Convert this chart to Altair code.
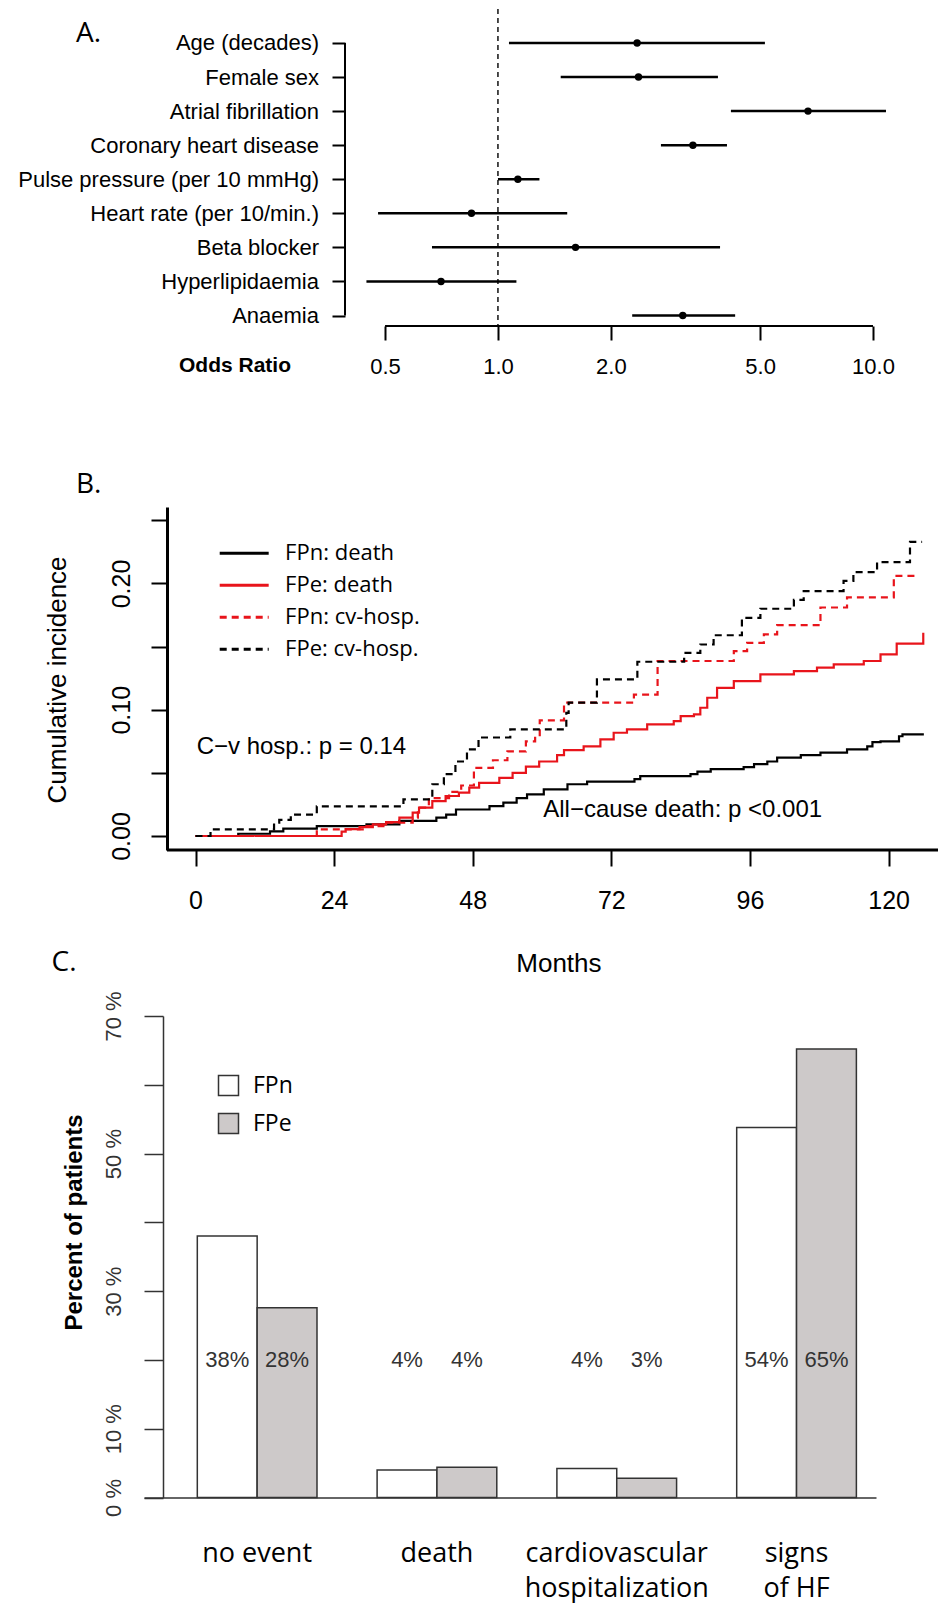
import altair as alt
import pandas as pd

ARIAL = "Liberation Sans"
CAL = "Open Sans"
RED = "#e8141b"

# ---------------- Panel A: odds ratios ----------------
predictors = ["Age (decades)", "Female sex", "Atrial fibrillation", "Coronary heart disease",
              "Pulse pressure (per 10 mmHg)", "Heart rate (per 10/min.)", "Beta blocker",
              "Hyperlipidaemia", "Anaemia"]
or_point = [2.35, 2.37, 6.71, 3.31, 1.13, 0.85, 1.61, 0.705, 3.11]
or_lower = [1.07, 1.47, 4.18, 2.72, 1.00, 0.479, 0.667, 0.446, 2.28]
or_upper = [5.15, 3.86, 10.83, 4.08, 1.29, 1.53, 3.91, 1.12, 4.29]
or_ticks = [0.5, 1.0, 2.0, 5.0, 10.0]
or_reference = [1.0]

# ---------------- Panel B: cumulative incidence ----------------
series_names = ["FPn: death", "FPe: death", "FPn: cv-hosp.", "FPe: cv-hosp."]
fpn_death_months = [0, 7.4, 12.9, 15.2, 21.0, 29.6, 35.3, 41.7, 43.4, 45.1, 50.9, 53.3, 55.6, 57.4,
                    60.3, 64.4, 67.8, 76.0, 77.0, 85.7, 86.9, 89.2, 94.9, 96.7, 99.0, 100.7, 104.8,
                    108.2, 112.8, 116.3, 117.2, 118.6, 121.8, 122.4, 126.1]
fpn_death_values = [0, 0.0018, 0.0037, 0.0058, 0.0079, 0.0092, 0.012, 0.0145, 0.017, 0.021, 0.0237,
                    0.0264, 0.030, 0.033, 0.037, 0.041, 0.043, 0.045, 0.0475, 0.049, 0.051, 0.053,
                    0.0546, 0.057, 0.059, 0.062, 0.064, 0.066, 0.0686, 0.071, 0.0744, 0.075, 0.079,
                    0.0805, 0.0805]
fpe_death_months = [0, 25.3, 26.0, 28.4, 30.7, 33.0, 35.3, 37.6, 38.7, 41.0, 43.3, 45.6, 47.4, 49.1,
                    52.6, 54.9, 57.2, 59.5, 62.6, 63.8, 67.2, 70.1, 72.4, 74.7, 78.2, 82.8, 84.0,
                    86.3, 87.4, 88.6, 90.3, 93.2, 97.8, 103.6, 107.6, 110.5, 115.7, 118.6, 121.4,
                    126.0, 126.0]
fpe_death_values = [0, 0.0034, 0.0055, 0.007, 0.0092, 0.011, 0.0145, 0.0185, 0.0224, 0.0277, 0.0317,
                    0.0343, 0.0383, 0.042, 0.046, 0.050, 0.055, 0.059, 0.064, 0.068, 0.071, 0.0765,
                    0.0818, 0.0845, 0.0884, 0.091, 0.095, 0.0963, 0.1016, 0.1095, 0.1174, 0.1227,
                    0.128, 0.1306, 0.1333, 0.136, 0.1386, 0.1439, 0.1523, 0.1523, 0.161]
fpn_hosp_months = [0, 21.0, 29.6, 33.0, 37.6, 38.5, 40.4, 43.9, 46.0, 48.2, 51.5, 54.0, 57.2, 58.8,
                   59.6, 63.8, 75.9, 80.0, 93.2, 95.5, 98.4, 100.7, 108.2, 112.8, 120.9, 124.9]
fpn_hosp_values = [0, 0.0053, 0.0079, 0.0105, 0.0145, 0.0224, 0.030, 0.035, 0.040, 0.054, 0.060,
                   0.067, 0.075, 0.079, 0.0916, 0.1056, 0.112, 0.1386, 0.1465, 0.153, 0.1597, 0.167,
                   0.181, 0.189, 0.206, 0.206]
fpe_hosp_months = [0, 2.6, 13.6, 14.5, 16.5, 21.0, 36.0, 41.0, 43.0, 45.0, 47.0, 49.0, 54.5, 64.2,
                   64.6, 69.5, 76.5, 84.6, 87.4, 89.7, 94.6, 97.8, 103.6, 105.3, 112.2, 113.9, 118.0,
                   123.7, 125.8]
fpe_hosp_values = [0, 0.0053, 0.0105, 0.0127, 0.017, 0.0235, 0.029, 0.041, 0.049, 0.059, 0.0686,
                   0.078, 0.0845, 0.0975, 0.1056, 0.124, 0.138, 0.145, 0.1517, 0.159, 0.1728, 0.18,
                   0.187, 0.194, 0.202, 0.209, 0.217, 0.233, 0.233]
month_ticks = [0, 24, 48, 72, 96, 120]
inc_ticks = [0, 0.05, 0.1, 0.15, 0.2, 0.25]
annot_text = ["C\u2212v hosp.: p = 0.14", "All\u2212cause death: p <0.001"]
annot_month = [0.2, 60.2]
annot_value = [0.0705, 0.0206]

# ---------------- Panel C: outcomes ----------------
outcomes = ["no event", "death", "cardiovascular hospitalization", "signs of HF"]
groups = ["FPn", "FPe"]
pct_fpn = [38.0, 4.0, 4.2, 53.8]
pct_fpe = [27.6, 4.4, 2.8, 65.2]
pct_ticks = [0, 10, 20, 30, 40, 50, 60, 70]
pct_labelled = [0, 10, 30, 50, 70]
label_level = 20

one_row = pd.DataFrame({"k": [0]})

# all three plot areas share the same left edge (page x = 144); axes are shifted with offsets
LEFT, RIGHT = -136, 797   # page x 8 .. 941 relative to the shared plot edge

# =============== Panel A ===============
WA, HA = 761, 317
dfA = pd.DataFrame({"label": predictors, "est": or_point, "lo": or_lower, "hi": or_upper})
xA = alt.Scale(type="log", domain=[0.11383, 12.171], nice=False)
yA = alt.Scale(type="point", domain=predictors, padding=0.653, align=0.764)
xaxisA = alt.Axis(values=or_ticks, format=".1f", domain=False, tickSize=14, tickWidth=2,
                  tickColor="black", labelFont=ARIAL, labelFontSize=22, labelColor="black",
                  labelPadding=16, labelFlush=False, labelOverlap=False, grid=False,
                  title="Odds Ratio", titleFont=ARIAL, titleFontSize=21, titleFontWeight="bold",
                  titleColor="black", titleX=90.5, titleY=39, titleAlign="center",
                  titleBaseline="middle")
yaxisA = alt.Axis(title=None, domain=False, offset=-201, tickSize=13, tickWidth=2,
                  tickColor="black", labelFont=ARIAL, labelFontSize=22, labelColor="black",
                  labelPadding=13.5, labelLimit=0, grid=False)

spacerA = alt.Chart(one_row).mark_rect(opacity=0).encode(
    x=alt.value(LEFT), x2=alt.value(RIGHT), y=alt.value(0), y2=alt.value(458))
refA = alt.Chart(pd.DataFrame({"r": or_reference})).mark_rule(
    color="black", strokeWidth=1.4, strokeDash=[5, 4]).encode(
    x=alt.X("r:Q", scale=xA, axis=xaxisA))
ciA = alt.Chart(dfA).mark_rule(color="black", strokeWidth=2.5).encode(
    x=alt.X("lo:Q", scale=xA, axis=xaxisA), x2="hi:Q",
    y=alt.Y("label:N", scale=yA, axis=yaxisA, sort=None))
ptA = alt.Chart(dfA).mark_circle(color="black", opacity=1, size=55).encode(
    x=alt.X("est:Q", scale=xA, axis=xaxisA),
    y=alt.Y("label:N", scale=yA, axis=yaxisA, sort=None))
spineA = alt.Chart(pd.DataFrame({"label": [predictors[0], predictors[-1]]})).mark_line(
    color="black", strokeWidth=2).encode(
    x=alt.value(201), y=alt.Y("label:N", scale=yA, axis=yaxisA, sort=None))
xlineA = alt.Chart(pd.DataFrame({"a": [or_ticks[0]], "b": [or_ticks[-1]]})).mark_rule(
    color="black", strokeWidth=2).encode(
    x=alt.X("a:Q", scale=xA, axis=xaxisA), x2="b:Q", y=alt.value(HA))
tagA = alt.Chart(one_row).mark_text(text="A.", font=CAL, fontSize=28, align="left",
                                    baseline="middle", color="black").encode(
    x=alt.value(-68), y=alt.value(25))
panelA = alt.layer(spacerA, refA, ciA, ptA, spineA, xlineA, tagA).properties(width=WA, height=HA)

# =============== Panel B ===============
WB, HB = 794, 343
rows = []
for name, ms, vs in [(series_names[0], fpn_death_months, fpn_death_values),
                     (series_names[1], fpe_death_months, fpe_death_values),
                     (series_names[2], fpn_hosp_months, fpn_hosp_values),
                     (series_names[3], fpe_hosp_months, fpe_hosp_values)]:
    for i, (m, v) in enumerate(zip(ms, vs)):
        rows.append({"series": name, "month": m, "value": v, "idx": i})
dfB = pd.DataFrame(rows)
xB = alt.Scale(domain=[-8.9165, 128.55], nice=False, zero=False)
yB = alt.Scale(domain=[-0.01109, 0.26059], nice=False, zero=False)
xaxisB = alt.Axis(values=month_ticks, domain=False, tickSize=16,
                  tickWidth=2, tickColor="black", labelFont=ARIAL, labelFontSize=25,
                  labelColor="black", labelPadding=22.5, labelFlush=False, labelOverlap=False,
                  grid=False, title="Months", titleFont=ARIAL, titleFontSize=26,
                  titleFontWeight="normal", titleColor="black", titleX=414.4, titleY=113,
                  titleAlign="center", titleBaseline="middle")
yaxisB = alt.Axis(values=inc_ticks, offset=-23, domainWidth=3, domainColor="black", tickSize=16,
                  tickWidth=2, tickColor="black", labelFont=ARIAL, labelFontSize=25,
                  labelColor="black", labelAngle=270, labelAlign="center",
                  labelBaseline="bottom", labelPadding=17, labelFlush=False,
                  labelOverlap=False, grid=False,
                  labelExpr="indexof([0, 0.1, 0.2], datum.value) >= 0 ? format(datum.value, '.2f') : ''",
                  title="Cumulative incidence", titleFont=ARIAL, titleFontSize=26,
                  titleFontWeight="normal", titleColor="black", titleAngle=270,
                  titleX=-109.5, titleY=172.5, titleAlign="center", titleBaseline="middle")
# legends of concatenated views are placed in root coordinates (origin = top-left of panel A)
legB = alt.Legend(title=None, orient="none", legendX=88.7, legendY=532.7,
                  symbolType="M-2.5,0H2.5", symbolSize=384, symbolStrokeWidth=3,
                  labelFont=CAL, labelFontSize=22, labelColor="black", labelOffset=29.4,
                  rowPadding=9, padding=0, labelLimit=0)

spacerB = alt.Chart(one_row).mark_rect(opacity=0).encode(
    x=alt.value(LEFT), x2=alt.value(RIGHT), y=alt.value(-40), y2=alt.value(479))
frameB = alt.Chart(one_row).mark_rule(color="black", strokeWidth=3).encode(
    x=alt.value(23), x2=alt.value(WB), y=alt.value(HB))
linesB = alt.Chart(dfB).mark_line(interpolate="step-after", strokeWidth=2.2).encode(
    x=alt.X("month:Q", scale=xB, axis=xaxisB),
    y=alt.Y("value:Q", scale=yB, axis=yaxisB),
    color=alt.Color("series:N", scale=alt.Scale(domain=series_names,
                                                range=["black", RED, RED, "black"]),
                    legend=legB),
    strokeDash=alt.StrokeDash("series:N", scale=alt.Scale(domain=series_names,
                                                          range=[[1, 0], [1, 0], [7, 5], [7, 5]]),
                              legend=legB),
    order=alt.Order("idx:Q"))
annB = alt.Chart(pd.DataFrame({"t": annot_text, "m": annot_month, "v": annot_value})).mark_text(
    font=ARIAL, fontSize=24, align="left", baseline="middle", color="black").encode(
    x=alt.X("m:Q", scale=xB, axis=xaxisB), y=alt.Y("v:Q", scale=yB, axis=yaxisB), text="t:N")
tagB = alt.Chart(one_row).mark_text(text="B.", font=CAL, fontSize=28, align="left",
                                    baseline="middle", color="black").encode(
    x=alt.value(-68), y=alt.value(-22))
tagC = alt.Chart(one_row).mark_text(text="C.", font=CAL, fontSize=28, align="left",
                                    baseline="middle", color="black").encode(
    x=alt.value(-92.5), y=alt.value(456))
panelB = alt.layer(spacerB, frameB, linesB, annB, tagB, tagC).properties(width=WB, height=HB)

# =============== Panel C ===============
WC, HC = 732, 481.5
dfC = pd.DataFrame({
    "outcome": outcomes * 2,
    "group": [groups[0]] * len(outcomes) + [groups[1]] * len(outcomes),
    "pct": pct_fpn + pct_fpe,
})
xC = alt.Scale(domain=outcomes, paddingInner=0.3343, paddingOuter=0.2028, align=0.731)
yC = alt.Scale(domain=[0, 70], nice=False, zero=True)
xoffC = alt.Scale(domain=groups, paddingInner=0, paddingOuter=0)
fillC = alt.Scale(domain=groups, range=["white", "#cdc9c9"])
xaxisC = alt.Axis(title=None, domainColor="#333333", domainWidth=1.5, ticks=False,
                  labelFont=CAL, labelFontSize=27, labelColor="black", labelPadding=42.5,
                  labelAngle=0, labelBaseline="top", labelLineHeight=35, labelLimit=0,
                  labelExpr="datum.label == 'cardiovascular hospitalization' ? ['cardiovascular', 'hospitalization'] : datum.label == 'signs of HF' ? ['signs', 'of HF'] : datum.label")
yaxisC = alt.Axis(values=pct_ticks, offset=-19, tickSize=19, tickWidth=1.5, tickColor="#333333",
                  domainColor="#333333", domainWidth=1.5, grid=False,
                  labelExpr="indexof(" + str(pct_labelled) + ", datum.value) >= 0 ? datum.value + ' %' : ''",
                  labelAngle=270, labelAlign="center", labelBaseline="bottom", labelPadding=19,
                  labelFont=ARIAL, labelFontSize=22, labelColor="#333333", labelFlush=False,
                  labelOverlap=False,
                  title="Percent of patients", titleFont=ARIAL, titleFontSize=24,
                  titleFontWeight="bold", titleColor="black", titleAngle=270, titleX=-89,
                  titleY=206, titleAlign="center", titleBaseline="middle")
legC = alt.Legend(title=None, orient="none", legendX=73, legendY=1065, symbolType="square",
                  symbolSize=400, symbolStrokeColor="#333333", symbolStrokeWidth=1.5,
                  labelFont=CAL, labelFontSize=23, labelColor="black", labelOffset=13,
                  rowPadding=11, padding=0)

spacerC = alt.Chart(one_row).mark_rect(opacity=0).encode(
    x=alt.value(LEFT), x2=alt.value(RIGHT), y=alt.value(-30), y2=alt.value(587))
barsC = alt.Chart(dfC).mark_bar(stroke="#333333", strokeWidth=1.5).encode(
    x=alt.X("outcome:N", scale=xC, axis=xaxisC, sort=None),
    xOffset=alt.XOffset("group:N", scale=xoffC, sort=groups),
    y=alt.Y("pct:Q", scale=yC, axis=yaxisC),
    fill=alt.Fill("group:N", scale=fillC, legend=legC))
textC = alt.Chart(dfC).transform_calculate(
    lbl="format(datum.pct, '.0f') + '%'").mark_text(
    font=ARIAL, fontSize=22, color="#333333", baseline="middle", align="center").encode(
    x=alt.X("outcome:N", scale=xC, axis=xaxisC, sort=None),
    xOffset=alt.XOffset("group:N", scale=xoffC, sort=groups),
    y=alt.datum(label_level, scale=yC, axis=yaxisC),
    text="lbl:N")
panelC = alt.layer(spacerC, barsC, textC).properties(width=WC, height=HC)

chart = alt.vconcat(panelA, panelB, panelC, spacing=0, padding=0).configure(
    font=ARIAL).configure_view(stroke=None)

chart.save("out.html", embed_options={"renderer": "svg", "actions": False})
